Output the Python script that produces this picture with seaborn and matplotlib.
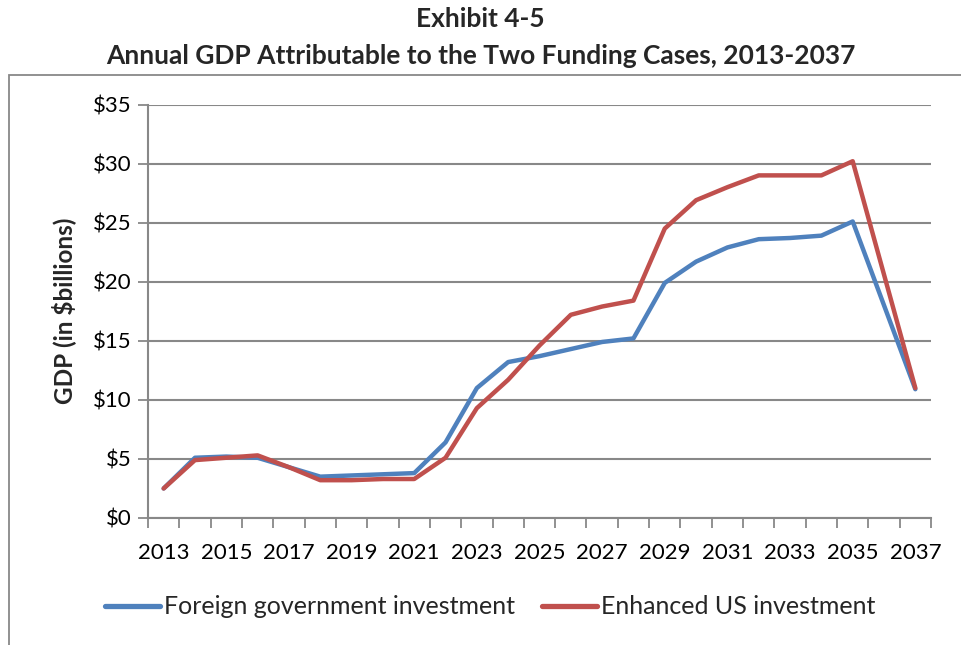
import pandas as pd
import matplotlib.pyplot as plt
import seaborn as sns
from matplotlib.patches import Rectangle

# values ($ billions)
years = list(range(2013, 2038))
foreign = [2.5, 5.1, 5.2, 5.1, 4.3, 3.5, 3.6, 3.7, 3.8, 6.4, 11.0, 13.2, 13.7,
           14.3, 14.9, 15.2, 19.9, 21.7, 22.9, 23.6, 23.7, 23.9, 25.1, 18.0, 10.9]
enhanced = [2.5, 4.9, 5.1, 5.3, 4.3, 3.2, 3.2, 3.3, 3.3, 5.1, 9.3, 11.7, 14.6,
            17.2, 17.9, 18.4, 24.5, 26.9, 28.0, 29.0, 29.0, 29.0, 30.2, 20.6, 11.0]
series_names = ['Foreign government investment', 'Enhanced US investment']
y_ticks = [0, 5, 10, 15, 20, 25, 30, 35]

df = pd.DataFrame({'Year': years * 2,
                   'GDP': foreign + enhanced,
                   'Case': [series_names[0]] * len(years) + [series_names[1]] * len(years)})

sns.set_style('white')
plt.rcParams['font.family'] = ['Lato', 'DejaVu Sans']

fig = plt.figure(figsize=(9.61, 6.45), dpi=100)
ax = fig.add_axes([148 / 961, 1 - 518 / 645, (931 - 148) / 961, (518 - 104.5) / 645])

# outer chart border (runs off the right and bottom edges)
fig.patches.append(Rectangle((9 / 961, -0.01), 1.0, 1 - 75 / 645 + 0.01, transform=fig.transFigure,
                             fill=False, edgecolor='#888888', linewidth=1.3))

sns.lineplot(data=df, x='Year', y='GDP', hue='Case', palette=['#4F81BD', '#C0504D'],
             linewidth=3.2, ax=ax, legend=False, zorder=3)

ax.set_xlim(2012.5, 2037.5)
ax.set_ylim(0, 35)
ax.set_yticks(y_ticks)
ax.set_yticklabels([f'${v}' for v in y_ticks])
ax.set_xticks(years[::2])
ax.set_xticklabels([str(y) for y in years[::2]])
ax.set_xticks([y - 0.5 for y in years] + [2037.5], minor=True)
# seaborn's white style hides ticks, so switch them back on
ax.tick_params(axis='x', which='both', bottom=True)
ax.tick_params(axis='y', which='major', left=True)
ax.tick_params(axis='x', which='major', length=0, labelsize=16, pad=18, colors='black')
ax.tick_params(axis='x', which='minor', length=7, width=1.3, color='#888888', direction='out')
ax.tick_params(axis='y', which='major', length=7, width=1.3, color='#888888', labelsize=16,
               labelcolor='black', direction='out', pad=5)

ax.grid(axis='y', color='#888888', linewidth=1.5, zorder=0)
ax.grid(axis='x', visible=False)
for side in ['top', 'right']:
    ax.spines[side].set_visible(False)
for side in ['left', 'bottom']:
    ax.spines[side].set_color('#888888')
    ax.spines[side].set_linewidth(1.5)

ax.set_xlabel('')
ax.set_ylabel('GDP (in $billions)', fontsize=17.5, fontweight='bold', labelpad=12)

fig.text(0.5, 1 - 19 / 645, 'Exhibit 4-5', ha='center', va='center', fontsize=19, fontweight='bold')
fig.text(0.5, 1 - 56 / 645, 'Annual GDP Attributable to the Two Funding Cases, 2013-2037',
         ha='center', va='center', fontsize=19, fontweight='bold')

# legend below the plot
handles = [plt.Line2D([], [], color=c, linewidth=3.8) for c in ['#4F81BD', '#C0504D']]
fig.legend(handles, series_names, loc='center', bbox_to_anchor=(490 / 961, 1 - 607 / 645),
           ncol=2, frameon=False, fontsize=18, handlelength=2.2, handletextpad=0.15,
           columnspacing=1.1)

fig.savefig('out.png', dpi=100)
